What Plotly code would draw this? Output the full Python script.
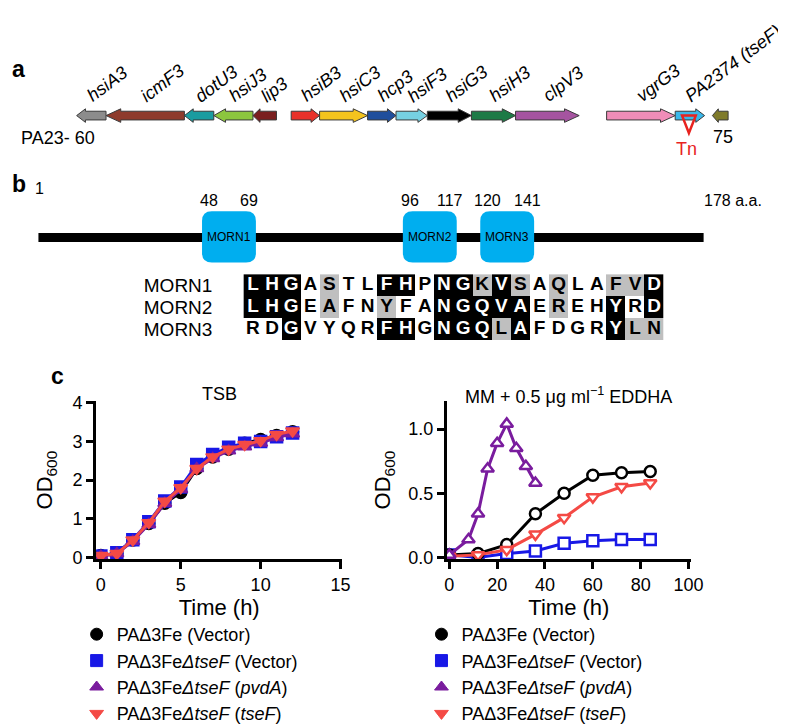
import plotly.graph_objects as go

W, H = 786, 724
FONT = "Liberation Sans, Arial, Helvetica, sans-serif"

# ---------------- Panel a: T6SS gene cluster ----------------
gene_names = ["hsiA3", "icmF3", "dotU3", "hsiJ3", "lip3", "hsiB3", "hsiC3", "hcp3",
              "hsiF3", "hsiG3", "hsiH3", "clpV3", "vgrG3", "PA2374 (tseF)", ""]
gene_start = [67, 97, 177, 207, 247, 286, 315, 364, 393, 425, 470, 515, 608, 678, 716]
gene_end = [97, 177, 207, 247, 271, 315, 364, 393, 425, 470, 515, 580, 678, 708, 732]
gene_strand = [-1, -1, -1, -1, -1, 1, 1, 1, 1, 1, 1, 1, 1, 1, -1]
gene_colors = ["#8C8C8C", "#8E3B2C", "#1A9CA0", "#8CC63E", "#7A1F1F", "#E8312A", "#F4C41D",
               "#1F4E9C", "#76D0E2", "#000000", "#1D7A46", "#A554A0", "#F08DB8", "#3BB8EA",
               "#7F7B2B"]
tn_position = 692

# ---------------- Panel b: MORN domains ----------------
protein_len = 178
morn_names = ["MORN1", "MORN2", "MORN3"]
morn_start = [48, 96, 120]
morn_end = [69, 117, 141]
# schematic (not to scale) box positions
morn_box_left = [195, 400, 479]
morn_box_right = [250, 455, 534]

align_rows = ["MORN1", "MORN2", "MORN3"]
align_seqs = ["LHGASTLFHPNGKVSAQLAFVD",
              "LHGEAFNYFANGQVAEREHYRD",
              "RDGVYQRFHGNGQLAFDGRYLN"]
align_shade = ["BBBWGWWBBWBBGBGWGWWGGB",
               "BBBWGWWGWWBBBBBWGWWBWB",
               "WWBWWWWBBWBBBGBWWWWBGG"]

# ---------------- Panel c: growth curves ----------------
strains = ["PAΔ3Fe (Vector)",
           "PAΔ3Fe<i>ΔtseF</i> (Vector)",
           "PAΔ3Fe<i>ΔtseF</i> (<i>pvdA</i>)",
           "PAΔ3Fe<i>ΔtseF</i> (<i>tseF</i>)"]
colors = ["#000000", "#1818E6", "#7A1C9E", "#F44A45"]
symbols = ["circle", "square", "triangle-up", "triangle-down"]

tsb_time = [0, 1, 2, 3, 4, 5, 6, 7, 8, 9, 10, 11, 12]
tsb_vec = [0.05, 0.10, 0.45, 0.88, 1.40, 1.68, 2.30, 2.60, 2.80, 2.95, 3.05, 3.15, 3.25]
tsb_tsef_vec = [0.04, 0.12, 0.46, 0.92, 1.46, 1.82, 2.40, 2.66, 2.85, 2.95, 3.00, 3.12, 3.22]
tsb_pvda = [0.03, 0.10, 0.42, 0.86, 1.40, 1.76, 2.30, 2.56, 2.76, 2.86, 2.96, 3.10, 3.20]
tsb_tsef = [0.05, 0.10, 0.45, 0.90, 1.45, 1.80, 2.30, 2.60, 2.80, 2.92, 3.02, 3.18, 3.27]

mm_time = [0, 12, 24, 36, 48, 60, 72, 84]
mm_vec = [0.02, 0.03, 0.10, 0.34, 0.50, 0.64, 0.66, 0.67]
mm_tsef_vec = [0.02, 0.00, 0.03, 0.05, 0.11, 0.13, 0.14, 0.14]
mm_tsef = [0.01, 0.02, 0.06, 0.18, 0.31, 0.47, 0.55, 0.58]
mm_pvda_time = [0, 8, 12, 16, 20, 24, 28, 32, 36]
mm_pvda = [0.02, 0.14, 0.34, 0.69, 0.89, 1.04, 0.85, 0.71, 0.58]

fig = go.Figure()

# TSB plot
tsb_series = [tsb_vec, tsb_tsef_vec, tsb_pvda, tsb_tsef]
for i in range(4):
    fig.add_trace(go.Scatter(
        x=tsb_time, y=tsb_series[i], mode="lines+markers", showlegend=False,
        line=dict(color=colors[i], width=3),
        marker=dict(symbol=symbols[i], size=12, color=colors[i],
                    line=dict(color=colors[i], width=1.5)),
        xaxis="x", yaxis="y"))

# MM + EDDHA plot
mm_series = [(mm_time, mm_tsef_vec, 1), (mm_time, mm_vec, 0), (mm_time, mm_tsef, 3),
             (mm_pvda_time, mm_pvda, 2)]
for tx, ty, i in mm_series:
    fig.add_trace(go.Scatter(
        x=tx, y=ty, mode="lines+markers", showlegend=False,
        line=dict(color=colors[i], width=3),
        marker=dict(symbol=symbols[i], size=11, color="white",
                    line=dict(color=colors[i], width=2.5)),
        xaxis="x2", yaxis="y2"))

# legend entries (one legend under each plot)
for leg in ["legend", "legend2"]:
    for i in range(4):
        fig.add_trace(go.Scatter(
            x=[None], y=[None], mode="markers", name=strains[i], legend=leg,
            marker=dict(symbol=symbols[i], size=12, color=colors[i],
                        line=dict(color=colors[i], width=1)),
            xaxis="x", yaxis="y"))

# alignment heatmap
shade_val = {"W": 0, "G": 1, "B": 2}
z = [[shade_val[c] for c in row] for row in align_shade]
fig.add_trace(go.Heatmap(
    z=z, x=list(range(len(align_seqs[0]))), y=[0, 1, 2],
    colorscale=[[0, "white"], [0.5, "#BFBFBF"], [1, "black"]],
    zmin=0, zmax=2, showscale=False, hoverinfo="skip",
    xaxis="x4", yaxis="y4"))
tx, ty, tt, tc = [], [], [], []
for r, seq in enumerate(align_seqs):
    for c, ch in enumerate(seq):
        tx.append(c)
        ty.append(r)
        tt.append("<b>" + ch + "</b>")
        tc.append("white" if align_shade[r][c] == "B" else "black")
fig.add_trace(go.Scatter(
    x=tx, y=ty, text=tt, mode="text", showlegend=False,
    textfont=dict(color=tc, size=19, family=FONT), hoverinfo="skip",
    xaxis="x4", yaxis="y4"))

# invisible trace for the schematic overlay axes
fig.add_trace(go.Scatter(x=[None], y=[None], showlegend=False, xaxis="x3", yaxis="y3"))

shapes = []
ann = []

# ---- panel a drawing ----
yc = 103
for name, s, e, st, col in zip(gene_names, gene_start, gene_end, gene_strand, gene_colors):
    L = e - s
    head = min(max(0.3 * L, 6), 15)
    bh, hh = 4.5, 7
    if st > 0:
        b = e - head
        path = (f"M{s},{yc-bh} L{b},{yc-bh} L{b},{yc-hh} L{e},{yc} L{b},{yc+hh} "
                f"L{b},{yc+bh} L{s},{yc+bh} Z")
    else:
        b = s + head
        path = (f"M{e},{yc-bh} L{b},{yc-bh} L{b},{yc-hh} L{s},{yc} L{b},{yc+hh} "
                f"L{b},{yc+bh} L{e},{yc+bh} Z")
    shapes.append(dict(type="path", path=path, xref="x3", yref="y3",
                       fillcolor=col, line=dict(color="#3a3a3a", width=1)))
    if name:
        ann.append(dict(text="<i>" + name + "</i>", x=(s + e) / 2 - 11, y=96,
                        xref="x3", yref="y3", xanchor="left", yanchor="bottom",
                        textangle=-37, showarrow=False, font=dict(size=18)))

shapes.append(dict(type="path", xref="x3", yref="y3",
                   path=f"M{tn_position-7},{yc} L{tn_position+7},{yc} L{tn_position},{yc+18} Z",
                   line=dict(color="#E8231F", width=2.5), fillcolor="rgba(0,0,0,0)"))
ann.append(dict(text="Tn", x=tn_position - 2, y=138, xref="x3", yref="y3",
                showarrow=False, font=dict(size=18, color="#E8231F")))
ann.append(dict(text="PA23- 60", x=8, y=126, xref="x3", yref="y3", xanchor="left",
                showarrow=False, font=dict(size=18)))
ann.append(dict(text="75", x=727, y=125, xref="x3", yref="y3",
                showarrow=False, font=dict(size=18)))

# ---- panel b drawing ----
line_y = 229
shapes.append(dict(type="line", xref="x3", yref="y3", x0=28, x1=707, y0=line_y, y1=line_y,
                   line=dict(color="black", width=9)))
r = 10
for nm, a0, a1, bx0, bx1 in zip(morn_names, morn_start, morn_end, morn_box_left, morn_box_right):
    y0, y1 = 202, 255
    path = (f"M{bx0+r},{y0} L{bx1-r},{y0} Q{bx1},{y0} {bx1},{y0+r} L{bx1},{y1-r} "
            f"Q{bx1},{y1} {bx1-r},{y1} L{bx0+r},{y1} Q{bx0},{y1} {bx0},{y1-r} "
            f"L{bx0},{y0+r} Q{bx0},{y0} {bx0+r},{y0} Z")
    shapes.append(dict(type="path", path=path, xref="x3", yref="y3",
                       fillcolor="#00AEEF", line=dict(width=0)))
    ann.append(dict(text=nm, x=(bx0 + bx1) / 2, y=line_y, xref="x3", yref="y3",
                    showarrow=False, font=dict(size=12, color="black")))
    ann.append(dict(text=str(a0), x=bx0 + 7, y=191, xref="x3", yref="y3",
                    showarrow=False, font=dict(size=16)))
    ann.append(dict(text=str(a1), x=bx1 - 7, y=191, xref="x3", yref="y3",
                    showarrow=False, font=dict(size=16)))
ann.append(dict(text="1", x=29, y=178, xref="x3", yref="y3", showarrow=False,
                font=dict(size=16)))
ann.append(dict(text=f"{protein_len} a.a.", x=737, y=191, xref="x3", yref="y3",
                showarrow=False, font=dict(size=16)))

# panel letters
for lt, lx, ly in [("a", 8, 55), ("b", 8, 174), ("c", 47, 372)]:
    ann.append(dict(text="<b>" + lt + "</b>", x=lx, y=ly, xref="x3", yref="y3",
                    showarrow=False, font=dict(size=23)))

# panel c titles
ann.append(dict(text="TSB", x=0.5, y=1.12, xref="x domain", yref="y domain",
                showarrow=False, font=dict(size=18)))
ann.append(dict(text="MM + 0.5 μg ml<sup>−1</sup> EDDHA", x=0.5, y=1.12,
                xref="x2 domain", yref="y2 domain", showarrow=False, font=dict(size=18)))

ax_common = dict(showline=True, linecolor="black", linewidth=3, ticks="outside",
                 ticklen=7, tickwidth=3, tickcolor="black", showgrid=False,
                 zeroline=False, tickfont=dict(size=18))
ydom = [(H - 562) / H, (H - 398) / H]

fig.update_layout(
    width=W, height=H, margin=dict(l=0, r=0, t=0, b=0),
    paper_bgcolor="white", plot_bgcolor="rgba(0,0,0,0)",
    font=dict(family=FONT, size=18, color="black"),
    shapes=shapes, annotations=ann,
    xaxis=dict(domain=[87 / W, 338 / W], range=[-0.29, 15.1], tickvals=[0, 5, 10, 15],
               anchor="y", title=dict(text="Time (h)", standoff=6), **ax_common),
    yaxis=dict(domain=ydom, range=[-0.05, 4.05], tickvals=[0, 1, 2, 3, 4], anchor="x",
               title=dict(text="OD<sub>600</sub>", standoff=14), **ax_common),
    xaxis2=dict(domain=[445 / W, 694 / W], range=[-1, 101],
                tickvals=[0, 20, 40, 60, 80, 100], anchor="y2",
                title=dict(text="Time (h)", standoff=6), **ax_common),
    yaxis2=dict(domain=ydom, range=[-0.015, 1.22], tickvals=[0, 0.5, 1.0],
                ticktext=["0.0", "0.5", "1.0"], anchor="x2",
                title=dict(text="OD<sub>600</sub>", standoff=12), **ax_common),
    xaxis3=dict(domain=[0, 1], range=[0, W], visible=False, anchor="y3"),
    yaxis3=dict(domain=[0, 1], range=[H, 0], visible=False, anchor="x3"),
    xaxis4=dict(domain=[237.25 / W, 666.25 / W], range=[-0.5, 21.5], visible=False,
                anchor="y4"),
    yaxis4=dict(domain=[(H - 335) / H, (H - 267) / H], range=[2.5, -0.5], anchor="x4",
                tickvals=[0, 1, 2], ticktext=align_rows, showline=False, ticks="",
                showgrid=False, zeroline=False, ticklabelstandoff=30,
                tickfont=dict(size=19)),
    legend=dict(x=67 / W, y=(H - 621) / H, xanchor="left", yanchor="top",
                bgcolor="rgba(0,0,0,0)", font=dict(size=18), tracegroupgap=0,
                itemwidth=30),
    legend2=dict(x=419 / W, y=(H - 621) / H, xanchor="left", yanchor="top",
                 bgcolor="rgba(0,0,0,0)", font=dict(size=18), tracegroupgap=0,
                 itemwidth=30),
)

fig.write_html("out.html")
